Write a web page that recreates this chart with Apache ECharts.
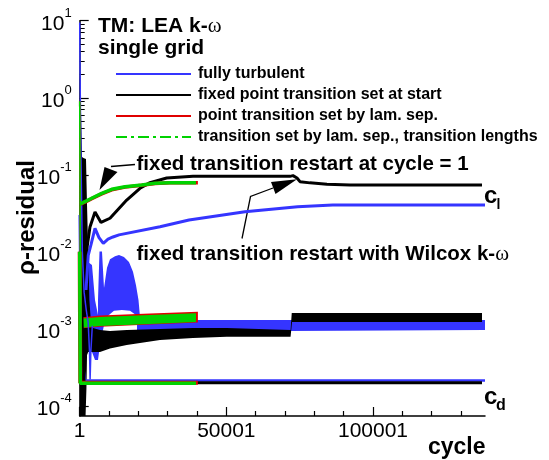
<!DOCTYPE html>
<html>
<head>
<meta charset="utf-8">
<script src="https://cdn.jsdelivr.net/npm/echarts@6/dist/echarts.min.js"></script>
<style>
html, body { margin: 0; padding: 0; background: #fff; }
#chart { width: 549px; height: 460px; }
</style>
</head>
<body>
<div id="chart"></div>
<script>
// ---------------- data: convergence history (cycle, value) ----------------
const xTickValues = [1, 50001, 100001];
const yDecadeValues = [1e-4, 1e-3, 1e-2, 1e-1, 1, 10];
const legendNames = [
  'fully turbulent',
  'fixed point transition set at start',
  'point transition set by lam. sep.',
  'transition set by lam. sep., transition lengths'
];

// fully turbulent
const turbLift = [[2150, 0.0032], [2930, 0.0091], [3850, 0.0124], [5220, 0.0202], [6580, 0.0153],
  [8050, 0.0129], [9650, 0.0146], [11350, 0.0156], [13400, 0.0166], [27380, 0.0212], [37270, 0.0259],
  [56360, 0.0332], [74300, 0.0385], [86300, 0.0405], [138190, 0.0405]];
const turbDrag = [[1, 0.03], [300, 0.002], [900, 0.0004], [1800, 0.000214], [138190, 0.000214]];
const turbResidualStart = [[1, 9.5], [120, 2.2], [400, 0.2], [900, 0.01], [1500, 0.003], [2200, 0.0018],
  [2900, 0.0012], [3350, 0.0005], [3550, 0.00022], [3800, 0.0005], [4300, 0.0011]];
const turbResidualEarlyUpper = [[1810, 0.00501], [2830, 0.0074], [4190, 0.00676], [5220, 0.00238], [6240, 0.00152]];
const turbResidualEarlyLower = [[1810, 0.00097], [2830, 0.00083], [4190, 0.000502], [5220, 0.000395], [6240, 0.000395]];
const turbResidualBurstUpper = [[6240, 0.00238], [6750, 0.0101], [7600, 0.0101], [8290, 0.0034], [9310, 0.0062],
  [10330, 0.0080], [12040, 0.0088], [13400, 0.0091], [15100, 0.0086], [16810, 0.0074], [18170, 0.0055],
  [19200, 0.0037], [20050, 0.00238], [20560, 0.00144]];
const turbResidualBurstLower = [[6240, 0.000395], [6920, 0.00062], [8290, 0.00112], [9650, 0.00148], [11690, 0.00172],
  [14420, 0.00176], [17150, 0.00172], [19540, 0.00148], [20560, 0.00094]];
const turbResidualBandUpper = [[19540, 0.00135], [41020, 0.00131], [71700, 0.00131], [138190, 0.00131]];
const turbResidualBandLower = [[19540, 0.00094], [41020, 0.00094], [71700, 0.00094], [138190, 0.000968]];

// fixed point transition set at start
const fixedLift = [[2390, 0.0106], [3500, 0.021], [5220, 0.033], [7260, 0.0241], [10330, 0.0273],
  [16030, 0.0471], [20560, 0.0668], [23970, 0.0791], [29660, 0.091], [38630, 0.0955], [50120, 0.0955],
  [71700, 0.0955], [72720, 0.0975], [74090, 0.091], [75110, 0.0815], [78520, 0.0786], [84320, 0.0754],
  [92160, 0.0738], [137160, 0.0738]];
const fixedDrag = [[1, 0.01], [1500, 0.0002], [137160, 0.0002]];
const fixedResidualStartUpper = [[1, 2.29], [440, 0.69], [780, 0.17], [1300, 0.165], [2150, 0.16], [2500, 0.04],
  [2900, 0.0106], [3300, 0.00238], [3900, 0.00112], [4530, 0.00103]];
const fixedResidualStartLower = [[1, 7.41e-5], [2000, 7.41e-5], [2300, 0.00017], [2500, 0.00046],
  [2900, 0.0005], [4530, 0.000502]];
const fixedResidualBandUpper = [[4530, 0.00103], [6920, 0.00097], [10330, 0.00094], [16030, 0.00097],
  [27380, 0.00100], [38630, 0.00103], [50120, 0.00103], [71900, 0.00097], [72300, 0.00161], [137160, 0.00161]];
const fixedResidualBandLower = [[4530, 0.000502], [6920, 0.00050], [10330, 0.000558], [16030, 0.00062],
  [27380, 0.00072], [38630, 0.00076], [50120, 0.00079], [71900, 0.00079], [72400, 0.00123], [137160, 0.00123]];

// point transition set by laminar separation
const pointLift = [[200, 0.0415], [680, 0.042], [2150, 0.0448], [4090, 0.049], [7500, 0.0565],
  [10910, 0.0638], [15450, 0.0692], [21140, 0.073], [25670, 0.077], [30790, 0.0786], [40300, 0.0791]];
const pointDrag = [[1, 0.01], [200, 0.0002], [40300, 0.0002]];
const pointResidualStart = [[1, 0.9], [300, 0.0013]];
const pointResidualUpper = [[100, 0.00141], [6920, 0.00149], [23970, 0.00158], [40300, 0.00167]];
const pointResidualLower = [[100, 0.00101], [6920, 0.00107], [23970, 0.00114], [40300, 0.00121]];

// transition set by laminar separation, with transition lengths
const lengthLift = [[200, 0.042], [680, 0.0427], [2150, 0.0455], [4090, 0.0496], [7500, 0.0575],
  [10910, 0.0648], [15450, 0.0701], [21140, 0.0738], [25670, 0.0777], [30790, 0.0791], [39650, 0.0791]];
const lengthDrag = [[1, 0.01], [200, 0.000197], [39650, 0.000197]];
const lengthResidualStart = [[1, 0.9], [300, 0.0012]];
const lengthResidualUpper = [[100, 0.00135], [6920, 0.00143], [23970, 0.00152], [39650, 0.0016]];
const lengthResidualLower = [[100, 0.00103], [6920, 0.00109], [23970, 0.00116], [39650, 0.00123]];

// minor tick positions of the logarithmic axis (2..9 in every decade)
const yMinorTickValues = [];
[1e-4, 1e-3, 1e-2, 1e-1, 1].forEach(function (d) {
  for (let m = 2; m <= 9; m++) yMinorTickValues.push(d * m);
});

// ---------------- styling ----------------
const COLORS = { blue: '#3535ff', black: '#000000', red: '#e00000', green: '#00d200' };
const FONT = '"Liberation Sans", Arial, sans-serif';

function line(name, data, color, width, type) {
  return {
    type: 'line', name: name, data: data, symbol: 'none', showSymbol: false,
    lineStyle: { color: color, width: width, type: type || 'solid' },
    itemStyle: { color: color }, silent: true, clip: true, animation: false
  };
}

// filled envelope between an upper and a lower bound of a noisy residual
function band(upper, lower, color) {
  return {
    type: 'custom', coordinateSystem: 'cartesian2d', silent: true, clip: true, animation: false,
    data: [upper[0]],
    renderItem: function (params, api) {
      const pts = upper.concat(lower.slice().reverse()).map(function (p) { return api.coord(p); });
      return { type: 'polygon', shape: { points: pts }, style: { fill: color } };
    }
  };
}

const series = [
  // fully turbulent
  line(legendNames[0], turbLift, COLORS.blue, 3),
  line(null, turbDrag, COLORS.blue, 2.5),
  line(null, turbResidualStart, COLORS.blue, 1.5),
  band(turbResidualEarlyUpper, turbResidualEarlyLower, COLORS.blue),
  band(turbResidualBurstUpper, turbResidualBurstLower, COLORS.blue),
  band(turbResidualBandUpper, turbResidualBandLower, COLORS.blue),
  // fixed point transition
  line(legendNames[1], fixedLift, COLORS.black, 3),
  line(null, fixedDrag, COLORS.black, 3),
  band(fixedResidualStartUpper, fixedResidualStartLower, COLORS.black),
  band(fixedResidualBandUpper, fixedResidualBandLower, COLORS.black),
  // point transition by laminar separation
  line(legendNames[2], pointLift, COLORS.red, 3.5),
  line(null, pointDrag, COLORS.red, 4),
  line(null, pointResidualStart, COLORS.red, 1.5),
  band(pointResidualUpper, pointResidualLower, COLORS.red),
  // transition lengths
  line(legendNames[3], lengthLift, COLORS.green, 3.5),
  line(null, lengthDrag, COLORS.green, 3.5),
  line(null, lengthResidualStart, COLORS.green, 1.5),
  band(lengthResidualUpper, lengthResidualLower, COLORS.green)
];

function decadeLabel(v) {
  const e = Math.round(Math.log10(v));
  return '{b|10}{s|' + e + '}';
}

const option = {
  animation: false,
  backgroundColor: '#ffffff',
  grid: { left: 79.7, right: 64, top: 20.7, bottom: 44, containLabel: false, outerBoundsMode: 'none' },
  legend: {
    left: 110, top: 61, orient: 'vertical',
    itemWidth: 75, itemHeight: 14, itemGap: 5,
    selectedMode: false,
    data: [
      { name: legendNames[0] },
      { name: legendNames[1] },
      { name: legendNames[2] },
      { name: legendNames[3], lineStyle: { type: [11, 4, 3, 4] } }
    ],
    lineStyle: { width: 2 },
    itemStyle: { opacity: 0 },
    textStyle: { fontFamily: FONT, fontWeight: 'bold', fontSize: 16, color: '#000', padding: [0, 0, 0, 2] }
  },
  xAxis: {
    type: 'value', min: 1, max: 138190, interval: 50000,
    axisLine: { lineStyle: { color: '#000', width: 1.5 } },
    axisTick: { inside: true, length: 9, customValues: xTickValues, lineStyle: { color: '#000', width: 1.2 } },
    minorTick: { show: true, splitNumber: 5, length: 5, lineStyle: { color: '#000', width: 1.2 } },
    axisLabel: {
      customValues: xTickValues, fontFamily: FONT, fontSize: 21, color: '#000', margin: 5,
      formatter: function (v) { return String(Math.round(v)); }
    },
    splitLine: { show: false }
  },
  yAxis: [
    {
      type: 'log', logBase: 10, min: 7.41e-5, max: 10, position: 'left',
      axisLine: { show: true, lineStyle: { color: '#000', width: 1.5 } },
      axisTick: { inside: true, length: 9, customValues: yDecadeValues, lineStyle: { color: '#000', width: 1.2 } },
      axisLabel: {
        customValues: yDecadeValues, margin: 8, formatter: decadeLabel,
        rich: {
          b: { fontFamily: FONT, fontSize: 21, color: '#000', padding: [7, 0, 0, 0] },
          s: { fontFamily: FONT, fontSize: 13, color: '#000', verticalAlign: 'top' }
        }
      },
      splitLine: { show: false }
    },
    {
      type: 'log', logBase: 10, min: 7.41e-5, max: 10, position: 'left', offset: 0,
      axisLine: { show: false },
      axisTick: { show: true, inside: true, length: 5, customValues: yMinorTickValues, lineStyle: { color: '#000', width: 1 } },
      axisLabel: { show: false },
      splitLine: { show: false }
    }
  ],
  series: series,
  graphic: [
    { type: 'text', left: 98, top: 16, style: {
      text: '{t|TM: LEA k-}{w|ω}',
      rich: { t: { fontFamily: FONT, fontWeight: 'bold', fontSize: 21, fill: '#000' },
              w: { fontFamily: '"Liberation Serif", serif', fontSize: 21, fill: '#000' } } } },
    { type: 'text', left: 98, top: 38, style: { text: 'single grid', font: 'bold 21px ' + FONT, fill: '#000' } },
    { type: 'text', left: 136.5, top: 154, style: { text: 'fixed transition restart at cycle = 1', font: 'bold 20.5px ' + FONT, fill: '#000' } },
    { type: 'text', left: 136.5, top: 244, style: {
      text: '{t|fixed transition restart with Wilcox k-}{w|ω}',
      rich: { t: { fontFamily: FONT, fontWeight: 'bold', fontSize: 20.5, fill: '#000' },
              w: { fontFamily: '"Liberation Serif", serif', fontSize: 21, fill: '#000' } } } },
    // arrows
    { type: 'polyline', shape: { points: [[135, 164.5], [111, 166.5]] }, style: { stroke: '#000', lineWidth: 1.3, fill: null } },
    { type: 'polygon', shape: { points: [[104.5, 167], [117.5, 172], [99.5, 190]] }, style: { fill: '#000' } },
    { type: 'polyline', shape: { points: [[242, 238.5], [250.5, 196.5], [273, 188]] }, style: { stroke: '#000', lineWidth: 1.3, fill: null } },
    { type: 'polygon', shape: { points: [[271, 182], [275.5, 194], [297, 179.3]] }, style: { fill: '#000' } },
    // curve labels
    { type: 'text', left: 484, top: 184, style: { text: 'c', font: 'bold 24px ' + FONT, fill: '#000' } },
    { type: 'text', left: 496.5, top: 198, style: { text: 'l', font: 'bold 14px ' + FONT, fill: '#000' } },
    { type: 'text', left: 484, top: 385, style: { text: 'c', font: 'bold 24px ' + FONT, fill: '#000' } },
    { type: 'text', left: 496, top: 398, style: { text: 'd', font: 'bold 16px ' + FONT, fill: '#000' } },
    // axis names
    { type: 'text', left: 428, top: 436, style: { text: 'cycle', font: 'bold 23px ' + FONT, fill: '#000' } },
    { type: 'text', x: 27, y: 217.5, rotation: Math.PI / 2,
      style: { text: 'ρ-residual', font: 'bold 24px ' + FONT, fill: '#000', align: 'center', verticalAlign: 'middle' } }
  ]
};

const chart = echarts.init(document.getElementById('chart'), null, { renderer: 'canvas' });
chart.setOption(option);
</script>
</body>
</html>
